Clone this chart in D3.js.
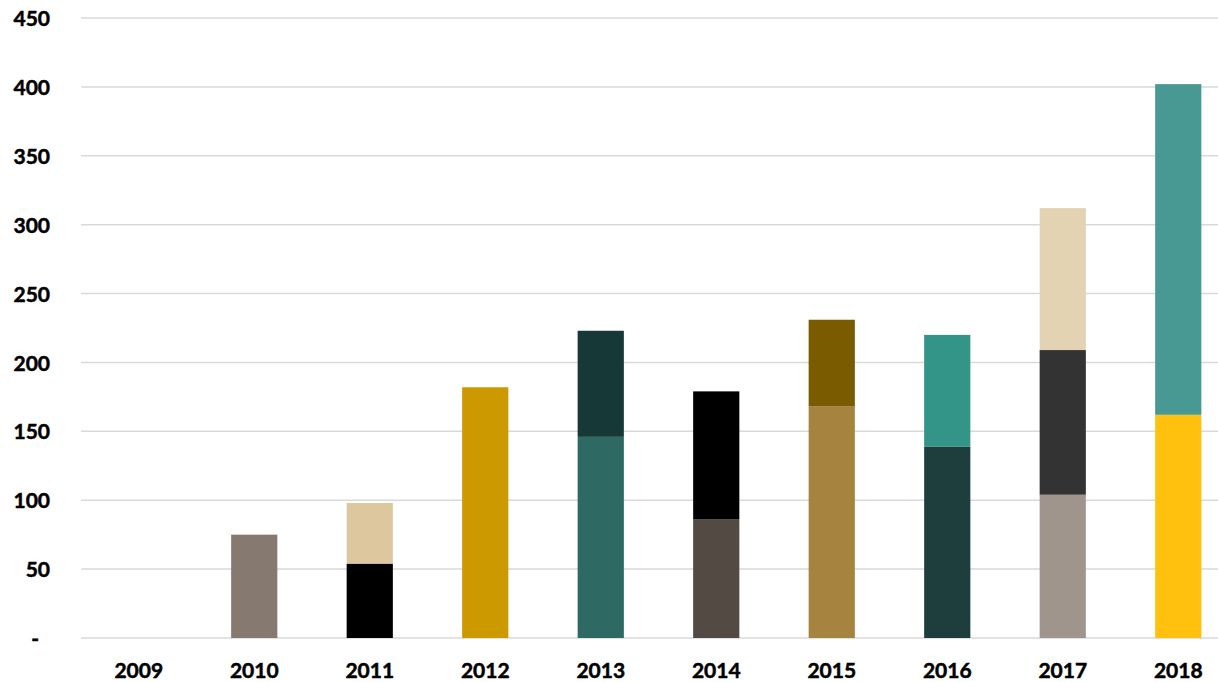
<!DOCTYPE html>
<html>
<head>
<meta charset="utf-8">
<script src="https://cdn.jsdelivr.net/npm/d3@7"></script>
<style>
  body { margin: 0; background: #fff; }
  .tick text { font-family: Lato, "Open Sans", sans-serif; font-weight: 700; font-size: 21px; fill: #000; stroke: #000; stroke-width: 0.5px; }
</style>
</head>
<body>
<div id="chart"></div>
<script>
// values
const years = ["2009", "2010", "2011", "2012", "2013", "2014", "2015", "2016", "2017", "2018"];
const bottomPart = [0, 75, 54, 182, 146, 86, 168, 139, 104, 162];
const middlePart = [0, 0, 44, 0, 77, 93, 63, 81, 105, 240];
const topPart = [0, 0, 0, 0, 0, 0, 0, 0, 103, 0];
const yTicks = [0, 50, 100, 150, 200, 250, 300, 350, 400, 450];

// each bar has its own colour per segment
const bottomColors = ["#fff", "#857970", "#000000", "#cc9900", "#2e6963", "#524a43", "#a6843f", "#1e3d3d", "#a0958c", "#ffc10e"];
const middleColors = ["#fff", "#fff", "#dcc79e", "#fff", "#163836", "#000000", "#7a5b00", "#339588", "#333333", "#489893"];
const topColors = ["#fff", "#fff", "#fff", "#fff", "#fff", "#fff", "#fff", "#fff", "#e3d3b2", "#fff"];

let width = 1218, height = 682;
let margin = { top: 18, left: 81, bottom: 44 };

let svg = d3.select("#chart").append("svg")
  .attr("width", width)
  .attr("height", height);

let table = years.map((y, i) => ({ year: y, a: bottomPart[i], b: middlePart[i], c: topPart[i] }));
let stacked = d3.stack().keys(["a", "b", "c"])(table);
let palettes = [bottomColors, middleColors, topColors];

let x = d3.scaleBand()
  .domain(years)
  .range([margin.left, margin.left + 1155])
  .paddingInner(0.6)
  .paddingOuter(0.3);

let y = d3.scaleLinear()
  .domain([0, 450])
  .range([height - margin.bottom, margin.top]);

// gridlines
svg.append("g")
  .selectAll("line")
  .data(yTicks)
  .enter().append("line")
  .attr("x1", margin.left)
  .attr("x2", width)
  .attr("y1", d => y(d))
  .attr("y2", d => y(d))
  .attr("stroke", "#d9d9d9")
  .attr("stroke-width", 1.5);

// bars
stacked.forEach((layer, k) => {
  svg.append("g")
    .selectAll("rect")
    .data(layer.filter(d => d[1] - d[0] > 0))
    .enter().append("rect")
    .attr("x", d => x(d.data.year))
    .attr("width", x.bandwidth())
    .attr("y", d => y(d[1]))
    .attr("height", d => y(d[0]) - y(d[1]))
    .attr("fill", d => palettes[k][years.indexOf(d.data.year)]);
});

// y axis
let yAxis = d3.axisLeft(y)
  .tickValues(yTicks)
  .tickSize(0)
  .tickPadding(0)
  .tickFormat(d => d === 0 ? "-" : d);

let yg = svg.append("g")
  .attr("transform", "translate(50,0)")
  .call(yAxis);
yg.select(".domain").remove();
yg.selectAll(".tick text")
  .attr("dy", "0.36em")
  .attr("dx", d => d === 0 ? -11 : 0);

// x axis
let xAxis = d3.axisBottom(x)
  .tickSize(0)
  .tickPadding(0);

let xg = svg.append("g")
  .attr("transform", "translate(0," + (height - margin.bottom) + ")")
  .call(xAxis);
xg.select(".domain").remove();
xg.selectAll(".tick text")
  .attr("y", 40)
  .attr("dy", 0);
</script>
</body>
</html>
